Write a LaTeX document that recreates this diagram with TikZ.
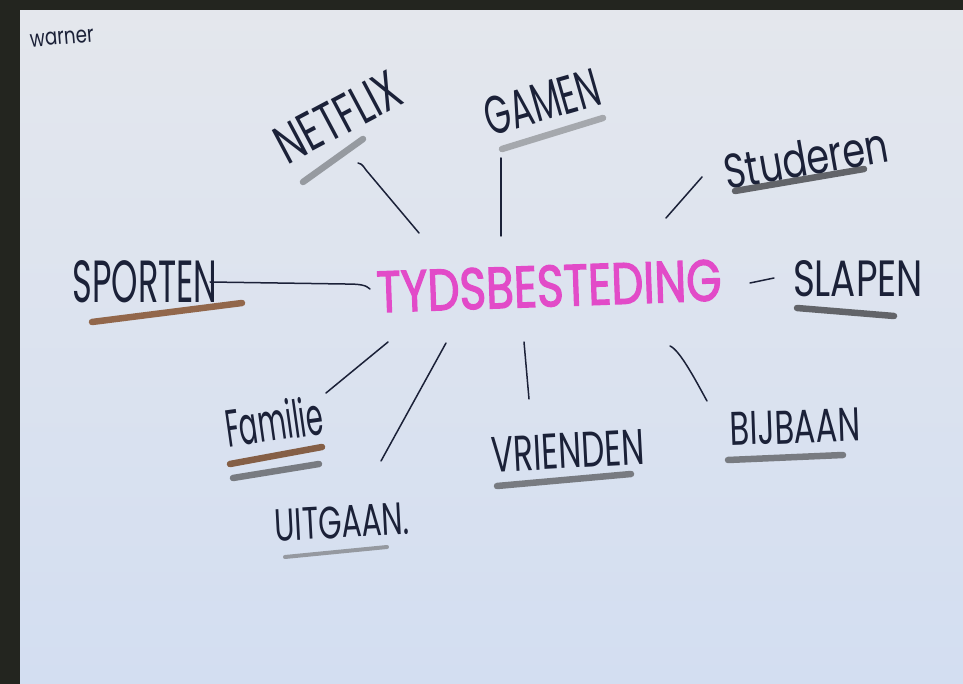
\documentclass[tikz,border=0pt]{standalone}
\usepackage{fontspec}
\usepackage{graphicx}
\setmainfont{Poppins}
\newfontfamily\markfont{Poppins}[FakeBold=2.5]
\definecolor{bgdark}{HTML}{23251F}
\definecolor{paperTop}{HTML}{E4E7ED}
\definecolor{paperBot}{HTML}{D3DEF1}
\definecolor{inkc}{HTML}{1B2138}
\definecolor{magentac}{HTML}{E24BC8}
\definecolor{brownc}{HTML}{8A5A3A}
\definecolor{greyA}{HTML}{8E9298}
\definecolor{greyB}{HTML}{55575B}
\definecolor{greyC}{HTML}{6E7176}
\newcommand{\wbox}[3]{\resizebox{#1pt}{#2pt}{#3}}
\begin{document}
\begin{tikzpicture}[x=1pt,y=-1pt,
  inkline/.style={draw=inkc, line width=1.5pt, line cap=round, line join=round},
  marker/.style={line width=6.5pt, line cap=round, opacity=0.9},
  word/.style={inner sep=0pt, outer sep=0pt, text=inkc},
]
\useasboundingbox (0,0) rectangle (963,684);
\fill[bgdark] (0,0) rectangle (963,684);
\shade[top color=paperTop, bottom color=paperBot] (20,11) rectangle (963,684);

% words
\node[word, rotate=5]  (warner)   at (62,38)   {\wbox{64}{13}{warner}};
\node[word, rotate=28] (netflix)  at (338,117) {\wbox{135}{38}{NETFLIX}};
\node[word, rotate=16] (gamen)    at (542,102) {\wbox{118}{38}{GAMEN}};
\node[word, rotate=10] (studeren) at (806,158) {\wbox{165}{36}{Studeren}};
\node[word]            (slapen)   at (858,279) {\wbox{130}{36}{SLAPEN}};
\node[word, text=magentac, rotate=2] (center) at (549,286) {\wbox{345}{41}{\markfont TYDSBESTEDING}};
\node[word]            (sporten)  at (145,282) {\wbox{145}{42}{SPORTEN}};
\node[word, rotate=8]  (familie)  at (274,421) {\wbox{98}{40}{Familie}};
\node[word, rotate=3]  (uitgaan)  at (342,522) {\wbox{135}{32}{UITGAAN.}};
\node[word, rotate=3]  (vrienden) at (568,451) {\wbox{153}{35}{VRIENDEN}};
\node[word, rotate=2]  (bijbaan)  at (795,427) {\wbox{130}{33}{BIJBAAN}};

% marker underlines
\draw[marker, draw=greyA] (303,182) -- (363,139);
\draw[marker, draw=greyA!85] (502,149) -- (603,118);
\draw[marker, draw=greyB] (735,191) -- (864,169);
\draw[marker, draw=greyB] (797,308) -- (894,316);
\draw[marker, draw=brownc] (92,322) -- (242,303);
\draw[marker, draw=brownc!90!black] (230,464) -- (322,447);
\draw[marker, draw=greyC] (233,478) -- (319,464);
\draw[marker, line width=4pt, draw=greyA] (285,557) -- (387,547);
\draw[marker, draw=greyC] (497,486) -- (631,474);
\draw[marker, draw=greyC] (728,460) -- (843,455);

% connector end points
\coordinate (cNf) at (419,233); \coordinate (eNf) at (358,163);
\coordinate (cGa) at (501,236); \coordinate (eGa) at (501,158);
\coordinate (cSt) at (666,218); \coordinate (eSt) at (702,177);
\coordinate (cSl) at (750,283); \coordinate (eSl) at (774,278);
\coordinate (cSp) at (370,289); \coordinate (eSp) at (210,282);
\coordinate (cFa) at (388,342); \coordinate (eFa) at (326,393);
\coordinate (cUi) at (446,343); \coordinate (eUi) at (381,461);
\coordinate (cVr) at (524,342); \coordinate (eVr) at (529,399);
\coordinate (cBi) at (670,346); \coordinate (eBi) at (707,401);

% connectors
\draw[inkline] (cNf) -- (366,170) .. controls (362,164) and (360,163) .. (eNf);
\draw[inkline] (cGa) -- (eGa);
\draw[inkline] (cSt) -- (eSt);
\draw[inkline] (cSl) -- (eSl);
\draw[inkline] (cSp) .. controls (366,285) and (360,284) .. (345,284) -- (eSp);
\draw[inkline] (cFa) -- (eFa);
\draw[inkline] (cUi) -- (eUi);
\draw[inkline] (cVr) -- (eVr);
\draw[inkline] (cBi) .. controls (680,350) and (697,383) .. (eBi);
\end{tikzpicture}
\end{document}
